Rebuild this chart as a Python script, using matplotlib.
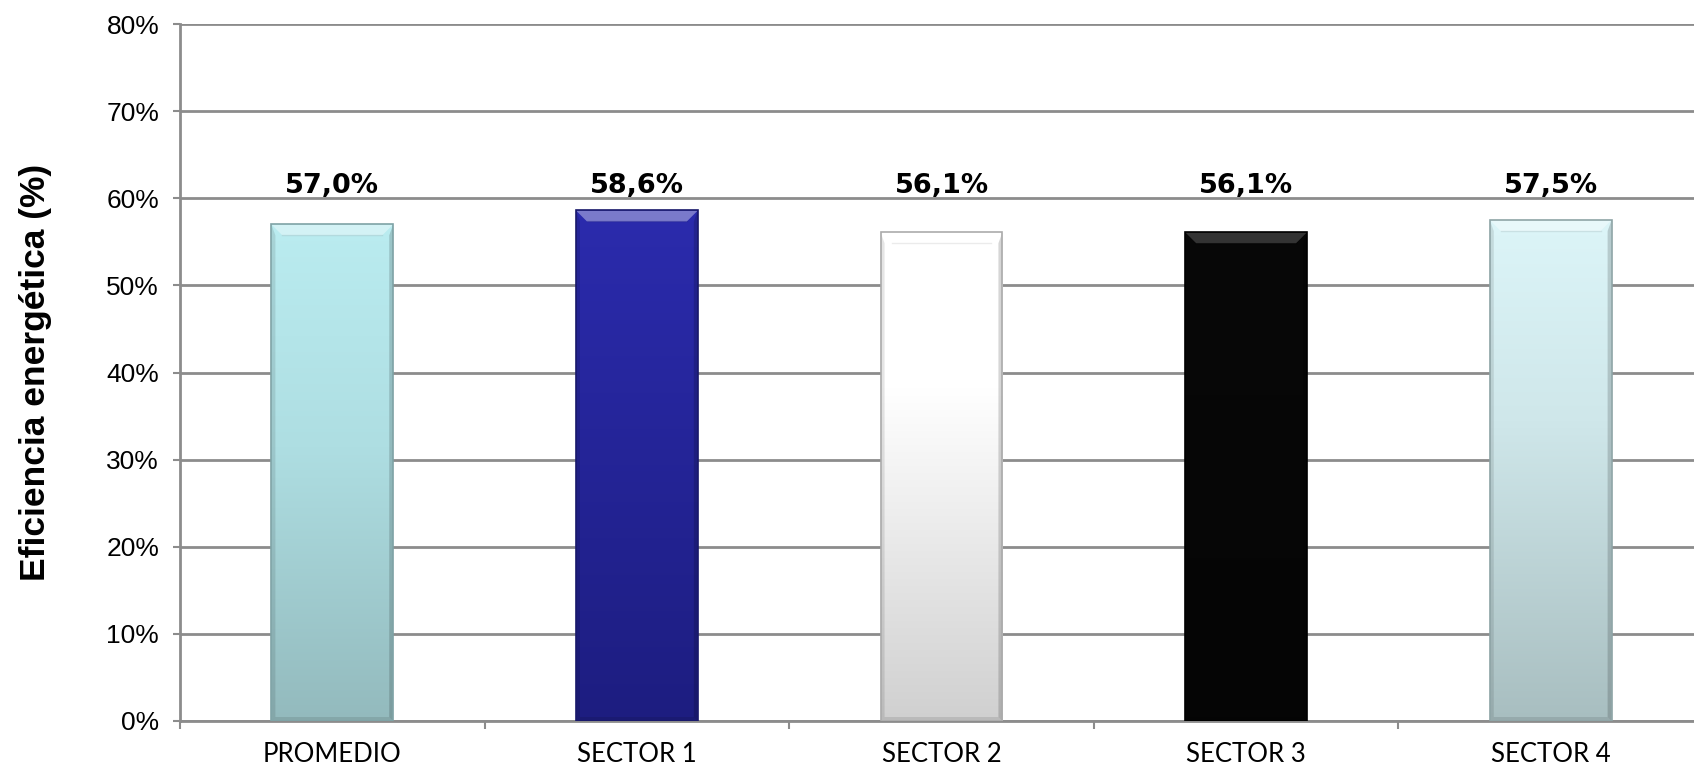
import numpy as np
import matplotlib
matplotlib.use("Agg")
import matplotlib.pyplot as plt
from matplotlib.colors import to_rgb
from matplotlib.patches import Polygon

# ---- data ----
categories = ["PROMEDIO", "SECTOR 1", "SECTOR 2", "SECTOR 3", "SECTOR 4"]
efficiency = [57.0, 58.6, 56.1, 56.1, 57.5]
value_labels = ["57,0%", "58,6%", "56,1%", "56,1%", "57,5%"]
y_ticks = [0, 10, 20, 30, 40, 50, 60, 70, 80]
y_tick_labels = ["0%", "10%", "20%", "30%", "40%", "50%", "60%", "70%", "80%"]

# vertical colour stops (0 = top of bar, 1 = bottom)
bar_gradients = [
    [(0.0, "#BAECF0"), (0.45, "#AEDEE2"), (1.0, "#93BABD")],
    [(0.0, "#2B2BAD"), (1.0, "#1D1D80")],
    [(0.0, "#FFFFFF"), (0.32, "#FFFFFF"), (1.0, "#D0D0D0")],
    [(0.0, "#080808"), (1.0, "#050505")],
    [(0.0, "#DCF5F8"), (0.4, "#CFE7EA"), (1.0, "#A8BEC0")],
]
edge_colors = ["#7FA3A6", "#18186A", "#ABABAB", "#000000", "#8EA4A6"]

GRID = "#8C8C8C"


def gradient_image(stops, n=256):
    pos = np.array([s[0] for s in stops])
    cols = np.array([to_rgb(s[1]) for s in stops])
    t = np.linspace(0, 1, n)
    img = np.stack([np.interp(t, pos, cols[:, k]) for k in range(3)], axis=-1)
    return img[:, None, :]


fig = plt.figure(figsize=(16.94, 7.66), dpi=100)
ax = fig.add_axes([180 / 1694, 45 / 766, 1523 / 1694, 697 / 766])
ax.set_xlim(-0.5, 4.5)
ax.set_ylim(0, 80)
ax.set_autoscale_on(False)

x = np.arange(len(categories))
bar_w = 0.40
bars = ax.bar(x, efficiency, width=bar_w, color="none",
              edgecolor=edge_colors, linewidth=1.2, zorder=5)

# pixel -> data scale for bevel details
p0 = ax.transData.transform((0, 0))
p1 = ax.transData.transform((1, 1))
ppx, ppy = p1[0] - p0[0], p1[1] - p0[1]

for i, (b, stops) in enumerate(zip(bars, bar_gradients)):
    x0, w, h = b.get_x(), b.get_width(), b.get_height()
    x1 = x0 + w
    im = ax.imshow(gradient_image(stops), extent=[x0, x1, 0, h],
                   aspect="auto", origin="upper", interpolation="bilinear",
                   zorder=3)
    im.set_clip_path(b)

    bev_x, bev_y = 11 / ppx, 11 / ppy
    side_x, side_y = 4 / ppx, 4 / ppy
    # top bevel
    ax.add_patch(Polygon([(x0, h), (x1, h), (x1 - bev_x, h - bev_y),
                          (x0 + bev_x, h - bev_y)], closed=True,
                         facecolor="white", alpha=0.38 if i != 3 else 0.18,
                         edgecolor="none", zorder=4))
    # bevel lower edge
    ax.plot([x0 + bev_x, x1 - bev_x], [h - bev_y, h - bev_y],
            color="black", alpha=0.08, lw=1, zorder=4)
    # side and bottom shading
    ax.add_patch(Polygon([(x0, 0), (x0, h), (x0 + side_x, h - bev_y),
                          (x0 + side_x, side_y)], closed=True,
                         facecolor="black", alpha=0.10, edgecolor="none", zorder=4))
    ax.add_patch(Polygon([(x1, 0), (x1, h), (x1 - side_x, h - bev_y),
                          (x1 - side_x, side_y)], closed=True,
                         facecolor="black", alpha=0.16, edgecolor="none", zorder=4))
    ax.add_patch(Polygon([(x0, 0), (x1, 0), (x1 - side_x, side_y),
                          (x0 + side_x, side_y)], closed=True,
                         facecolor="black", alpha=0.10, edgecolor="none", zorder=4))

    ax.text(x[i], 60.6, value_labels[i], ha="center", va="baseline",
            fontsize=19.5, fontweight="bold", family="DejaVu Sans",
            color="black", zorder=6)

# grid and axes
ax.set_yticks(y_ticks)
ax.set_yticklabels(y_tick_labels, family="Liberation Sans", fontsize=19)
ax.yaxis.grid(True, color=GRID, linewidth=2)
ax.set_axisbelow(True)

ax.set_xticks(x)
ax.set_xticklabels(categories, family="Lato", fontsize=18.5)
ax.set_xticks(np.arange(-0.5, 5.0, 1.0), minor=True)
ax.tick_params(axis="x", which="major", length=0, pad=15)
ax.tick_params(axis="x", which="minor", length=6, width=1.5, color=GRID,
               direction="out")
ax.tick_params(axis="y", which="major", length=5, width=1.5, color=GRID,
               direction="out", pad=10)

for side in ("top", "right"):
    ax.spines[side].set_visible(False)
for side in ("left", "bottom"):
    ax.spines[side].set_color(GRID)
    ax.spines[side].set_linewidth(2)

fig.text(36 / 1694, 1 - 372 / 766, "Eficiencia energética (%)", rotation=90,
         ha="center", va="center", fontsize=25.5, fontweight="bold",
         family="Liberation Sans")

fig.savefig("out.png", dpi=100, facecolor="white")
